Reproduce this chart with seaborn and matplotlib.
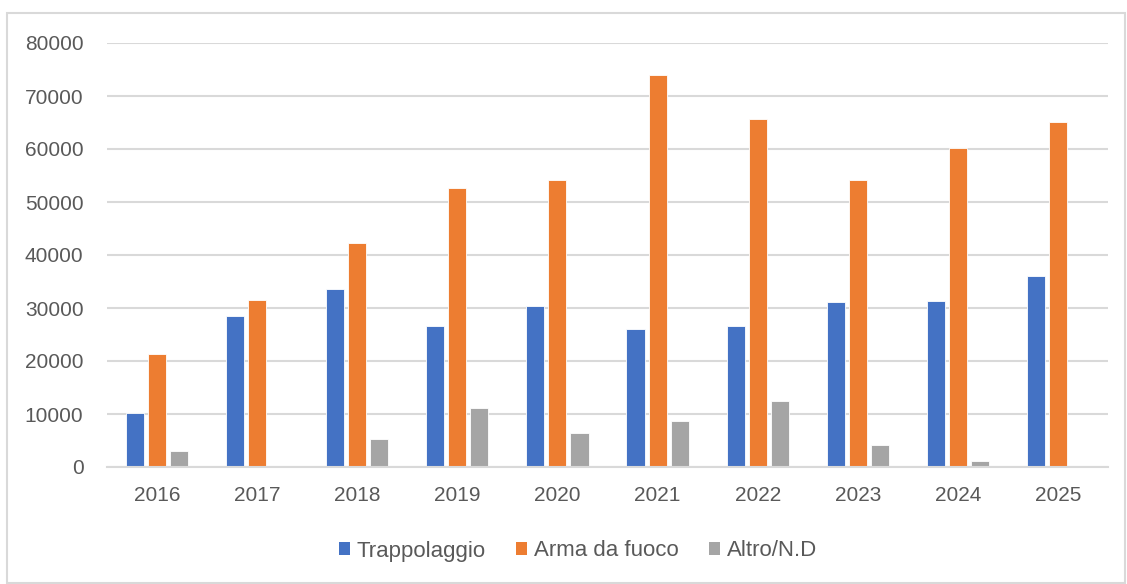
import matplotlib
matplotlib.use("Agg")
import matplotlib.pyplot as plt
import seaborn as sns
import pandas as pd
from matplotlib.patches import Rectangle, Patch

years = ["2016", "2017", "2018", "2019", "2020", "2021", "2022", "2023", "2024", "2025"]
trappolaggio = [10250, 28430, 33520, 26540, 30380, 25970, 26540, 31070, 31380, 35970]
arma_da_fuoco = [21380, 31570, 42260, 52640, 54090, 73960, 65720, 54090, 60190, 65030]
altro_nd = [3020, 0, 5220, 11200, 6420, 8620, 12520, 4210, 1070, 0]
series_names = ["Trappolaggio", "Arma da fuoco", "Altro/N.D"]
colors = ["#4472C4", "#ED7D31", "#A5A5A5"]
yticks = [0, 10000, 20000, 30000, 40000, 50000, 60000, 70000, 80000]

rows = []
for name, vals in zip(series_names, [trappolaggio, arma_da_fuoco, altro_nd]):
    for y, v in zip(years, vals):
        rows.append({"Anno": y, "Valore": v, "Serie": name})
df = pd.DataFrame(rows)

sns.set_theme(style="white")
plt.rcParams["font.family"] = ["Liberation Sans", "DejaVu Sans"]

fig = plt.figure(figsize=(11.27, 5.84), dpi=100)
ax = fig.add_axes([107/1127, (584-467)/584, (1108-107)/1127, (467-43)/584])

sns.barplot(data=df, x="Anno", y="Valore", hue="Serie", order=years,
            hue_order=series_names, palette=colors, width=0.66, gap=0.18,
            edgecolor="white", linewidth=0.6, saturation=1, ax=ax, legend=False)

ax.set_ylim(0, 80000)
ax.set_xlim(-0.5, 9.5)
ax.set_yticks(yticks)
ax.set_yticklabels([str(t) for t in yticks])
ax.yaxis.grid(True, color="#D9D9D9", linewidth=1.5)
ax.set_axisbelow(True)
for s in ["top", "right", "left"]:
    ax.spines[s].set_visible(False)
ax.spines["bottom"].set_color("#D9D9D9")
ax.spines["bottom"].set_linewidth(1.5)
ax.set_xlabel("")
ax.set_ylabel("")
ax.tick_params(axis="both", length=0, labelsize=15, labelcolor="#595959")
ax.tick_params(axis="y", pad=17)
ax.tick_params(axis="x", pad=14)

handles = [Patch(facecolor=c, edgecolor="none") for c in colors]
fig.legend(handles, series_names, loc="center", bbox_to_anchor=(578/1127, 1 - 551/584),
           ncol=3, frameon=False, fontsize=16, labelcolor="#595959",
           handlelength=0.5, handleheight=0.5, handletextpad=0.32, columnspacing=1.35)

fig.patches.append(Rectangle((7/1127, 1/584), (1125-7)/1127, (571-1)/584,
                             transform=fig.transFigure, fill=False,
                             edgecolor="#D9D9D9", linewidth=1.5))

fig.savefig("out.png", dpi=100, facecolor="white")
